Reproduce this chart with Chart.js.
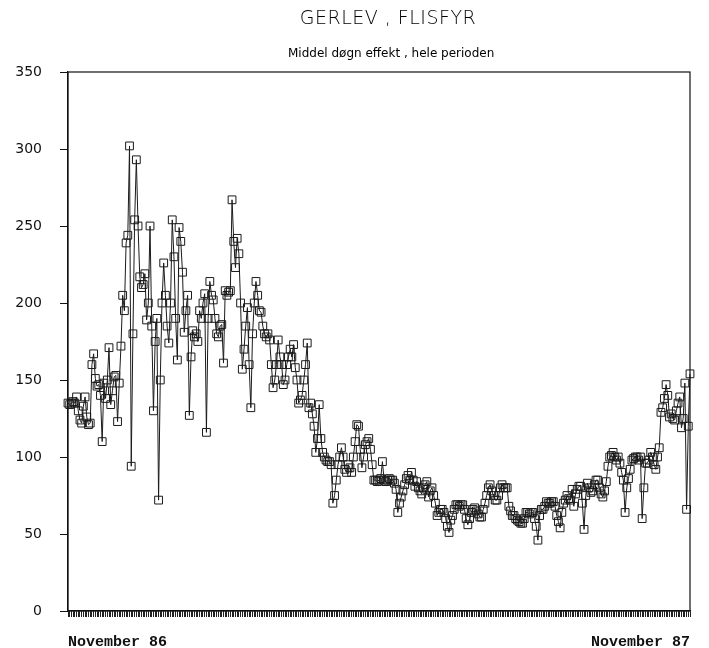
<!DOCTYPE html>
<html>
<head>
<meta charset="utf-8">
<script src="https://cdn.jsdelivr.net/npm/chart.js@4/dist/chart.umd.min.js"></script>
<style>
    html, body { margin: 0; padding: 0; background: #fff; }
    .wrap { position: relative; width: 709px; height: 648px; }
    canvas { position: absolute; left: 0; top: 0; }
    .title { position: absolute; left: 288px; width: 200px; text-align: center; color: #000; white-space: nowrap; }
    .t1 { top: 6px; font: 300 19px "DejaVu Sans", sans-serif; letter-spacing: 0.5px; }
    .t2 { top: 46px; font: 12px "DejaVu Sans", sans-serif; }
</style>
</head>
<body>
<div class="wrap">
    <canvas id="chart" width="709" height="648"></canvas>
    <div class="title t1">GERLEV , FLISFYR</div>
    <div class="title t2">Middel døgn effekt , hele perioden</div>
</div>
<script>
// daglige middelværdier, november 86 - november 87
const effekt = [
    135, 134, 135, 136, 135, 139, 130, 124, 122, 133,
    139, 126, 121, 122, 160, 167, 151, 146, 147, 140,
    110, 148, 138, 150, 171, 134, 143, 152, 153, 123,
    148, 172, 205, 195, 239, 244, 302, 94, 180, 254,
    293, 250, 217, 210, 212, 219, 189, 200, 250, 185,
    130, 175, 190, 72, 150, 200, 226, 205, 185, 174,
    200, 254, 230, 190, 163, 249, 240, 220, 181, 195,
    205, 127, 165, 182, 178, 180, 175, 195, 190, 200,
    206, 116, 190, 214, 205, 202, 190, 180, 178, 185,
    186, 161, 208, 205, 207, 208, 267, 240, 223, 242,
    232, 200, 157, 170, 185, 197, 160, 132, 180, 200,
    214, 205, 195, 194, 185, 180, 178, 180, 176, 160,
    145, 150, 160, 176, 165, 160, 147, 150, 160, 165,
    170, 165, 173, 158, 150, 135, 137, 140, 150, 160,
    174, 132, 135, 128, 120, 103, 112, 134, 112, 103,
    100, 98, 97, 97, 95, 70, 75, 85, 95, 100,
    106, 100, 92, 90, 95, 93, 90, 100, 110, 121,
    120, 105, 93, 100, 108, 110, 112, 105, 95, 85,
    85, 84, 85, 86, 97, 85, 84, 85, 86, 85,
    85, 83, 79, 64, 70, 74, 78, 82, 86, 88,
    85, 90, 85, 81, 84, 80, 78, 76, 80, 82,
    84, 74, 78, 80, 75, 70, 62, 64, 66, 66,
    64, 60, 55, 51, 59, 62, 66, 69, 69, 68,
    69, 69, 66, 60, 56, 60, 64, 66, 67, 65,
    63, 61, 61, 66, 70, 75, 80, 82, 78, 75,
    72, 72, 75, 80, 82, 80, 80, 80, 68, 65,
    62, 62, 60, 59, 58, 57, 57, 60, 64, 64,
    63, 64, 64, 60, 55, 46, 62, 66, 66, 68,
    71, 70, 70, 71, 71, 68, 62, 58, 54, 64,
    70, 72, 75, 73, 72, 79, 68, 76, 79, 81,
    81, 70, 53, 75, 83, 80, 77, 78, 82, 85,
    85, 80, 76, 74, 78, 84, 94, 100, 101, 103,
    100, 98, 100, 96, 90, 85, 64, 80, 86, 92,
    98, 99, 100, 100, 98, 100, 60, 80, 96, 96,
    98, 103, 100, 95, 92, 100, 106, 129, 132, 138,
    147, 140, 126, 128, 125, 124, 130, 135, 139, 119,
    125, 148, 66, 120, 154
];
const startLabel = "November 86";
const endLabel = "November 87";
const yMin = 0;
const yMax = 350;
const yStep = 50;

const dage = effekt.map(function (v, i) { return i; });

// ramme rundt om plotområdet
const frame = {
    id: "frame",
    afterDraw: function (chart) {
        const a = chart.chartArea;
        const ctx = chart.ctx;
        ctx.save();
        ctx.strokeStyle = "#111";
        ctx.lineWidth = 1.2;
        ctx.strokeRect(a.left, a.top, a.right - a.left, a.bottom - a.top);
        ctx.restore();
    }
};

new Chart(document.getElementById("chart"), {
    type: "line",
    data: {
        labels: dage,
        datasets: [{
            data: effekt,
            borderColor: "#1a1a1a",
            borderWidth: 1,
            tension: 0,
            pointStyle: "rect",
            pointRadius: 5.5,
            pointBorderWidth: 1,
            pointBorderColor: "#1a1a1a",
            pointBackgroundColor: "rgba(255,255,255,0)"
        }]
    },
    options: {
        responsive: false,
        animation: false,
        layout: { padding: { top: 72, right: 19, left: 0, bottom: 0 } },
        plugins: {
            legend: { display: false },
            tooltip: { enabled: false }
        },
        scales: {
            x: {
                type: "category",
                offset: false,
                grid: {
                    drawOnChartArea: false,
                    color: "#222",
                    tickColor: "#222",
                    tickLength: 6
                },
                border: { color: "#111", width: 1.2 },
                ticks: {
                    autoSkip: false,
                    maxRotation: 0,
                    align: "inner",
                    padding: 16,
                    color: "#111",
                    font: { family: "Liberation Mono", size: 15, weight: "bold" },
                    callback: function (value, index) {
                        if (index === 0) return startLabel;
                        if (index === effekt.length - 1) return endLabel;
                        return "";
                    }
                },
                afterFit: function (scale) { scale.height = 37; }
            },
            y: {
                min: yMin,
                max: yMax,
                grid: {
                    drawOnChartArea: false,
                    color: "#111",
                    tickLength: 8
                },
                border: { color: "#111", width: 1.2 },
                ticks: {
                    stepSize: yStep,
                    padding: 18,
                    color: "#111",
                    font: { family: "DejaVu Sans", size: 14 }
                },
                afterFit: function (scale) { scale.width = 68; }
            }
        }
    },
    plugins: [frame]
});
</script>
</body>
</html>
